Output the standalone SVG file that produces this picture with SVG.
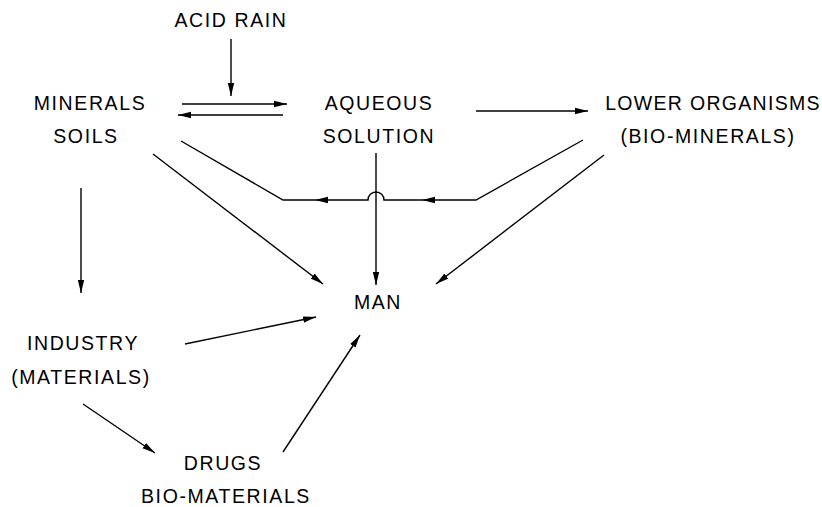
<svg xmlns="http://www.w3.org/2000/svg" width="822" height="507" viewBox="0 0 822 507">
<defs>
<style>
text{font-family:"Liberation Sans",Arial,sans-serif;font-size:19.5px;letter-spacing:1.6px;fill:#000;text-anchor:middle}
.c line,.c path{stroke:#000;stroke-width:1.4;fill:none}
.c path.h{fill:#000;stroke:none}
</style>
<marker id="ah" markerUnits="userSpaceOnUse" markerWidth="14" markerHeight="8" refX="13" refY="4" orient="auto">
<path d="M0,0.8 L13,4 L0,7.2 Z" fill="#000"/>
</marker>
</defs>
<rect width="822" height="507" fill="#fff"/>
<g id="acid-rain"><text x="231" y="27">ACID RAIN</text></g>
<g id="minerals"><text x="90" y="110">MINERALS</text><text x="86" y="143">SOILS</text></g>
<g id="aqueous"><text x="379" y="110">AQUEOUS</text><text x="379" y="143">SOLUTION</text></g>
<g id="lower"><text x="713" y="110" style="letter-spacing:1.3px">LOWER ORGANISMS</text><text x="708" y="143">(BIO-MINERALS)</text></g>
<g id="man"><text x="378" y="309">MAN</text></g>
<g id="industry"><text x="83" y="350">INDUSTRY</text><text x="81" y="384">(MATERIALS)</text></g>
<g id="drugs"><text x="223" y="470">DRUGS</text><text x="226" y="503">BIO-MATERIALS</text></g>
<g id="connectors" class="c">
<line x1="231" y1="39" x2="231" y2="96" marker-end="url(#ah)"/>
<line x1="182" y1="104" x2="287" y2="104" marker-end="url(#ah)"/>
<line x1="283" y1="115" x2="178" y2="115" marker-end="url(#ah)"/>
<line x1="476" y1="111" x2="588" y2="111" marker-end="url(#ah)"/>
<line x1="153" y1="154" x2="323" y2="284" marker-end="url(#ah)"/>
<line x1="604" y1="155" x2="436" y2="284" marker-end="url(#ah)"/>
<line x1="81" y1="188" x2="81" y2="293" marker-end="url(#ah)"/>
<line x1="376" y1="153" x2="376" y2="285" marker-end="url(#ah)"/>
<line x1="185" y1="344" x2="316" y2="317" marker-end="url(#ah)"/>
<line x1="83" y1="404" x2="155" y2="453" marker-end="url(#ah)"/>
<line x1="283" y1="452" x2="360" y2="335" marker-end="url(#ah)"/>
<path d="M583,140 L476,200 L384,200 A8,8 0 0 0 368,200 L283,200 L181,141"/>
<path class="h" d="M315,200 L328,196.8 L328,203.2 Z"/>
<path class="h" d="M422,200 L435,196.8 L435,203.2 Z"/>
</g>
</svg>
